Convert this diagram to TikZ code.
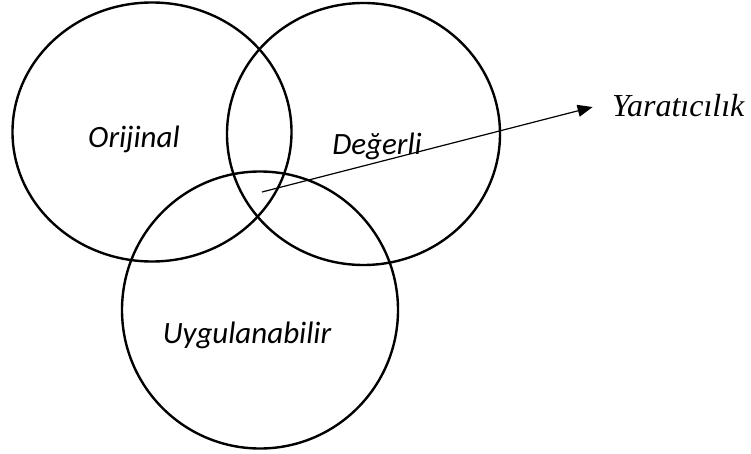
\documentclass[tikz,border=0pt]{standalone}
\usepackage{fontspec}
\usepackage{tikz}
\usetikzlibrary{positioning}
\usetikzlibrary{shapes.geometric}
\usetikzlibrary{arrows.meta}
\newfontfamily\labelfont{Carlito}
\newfontfamily\resultfont{Liberation Serif}
\tikzset{set node/.style={ellipse,draw,line width=2.4pt,inner sep=0pt},
         set label/.style={font=\labelfont\itshape\fontsize{31}{37}\selectfont,anchor=base,inner sep=0pt},}

\begin{document}
\begin{tikzpicture}[x=1pt,y=-1pt]
	\useasboundingbox (0,0) rectangle (751,454);

    \node[set node,minimum width=279pt,minimum height=259pt] (orj) at (152,132) {};
    \node[set node,minimum width=273pt,minimum height=262pt] (deg) at (363.5,134) {};
    \node[set node,minimum width=276pt,minimum height=277pt] (uyg) at (260,310) {};

    \node[set label] (orjtext) at (134,148) {Orijinal};
    \node[set label] (degtext) at (377,155) {Değerli};
    \node[set label] (uygtext) at (247,343) {Uygulanabilir};

    \coordinate (mid) at (262,192);
    \node[font=\resultfont\itshape\fontsize{32}{38}\selectfont,anchor=base west,inner sep=0pt] (yar) at (612,117) {Yaratıcılık};

    \draw[line width=1.2pt,-{Triangle[length=15pt,width=12pt]},shorten >=20pt]
    (mid) -- ([yshift=4pt]yar.west);
    
\end{tikzpicture}
\end{document}
